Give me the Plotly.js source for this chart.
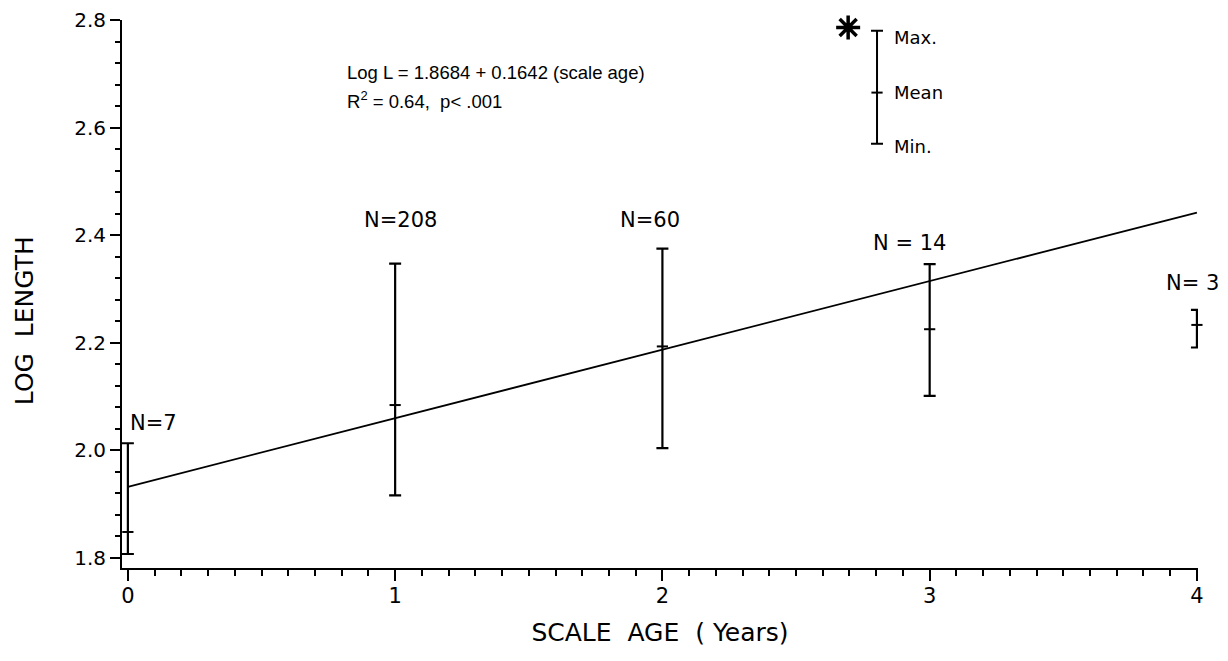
<!DOCTYPE html>
<html>
<head>
<meta charset="utf-8">
<script src="https://cdn.plot.ly/plotly-3.0.1.min.js"></script>
<style>html,body{margin:0;padding:0;background:#fff;}#chart{width:1228px;height:661px;}</style>
</head>
<body>
<div id="chart"></div>
<script>
// ---- data ----
const ages     = [0, 1, 2, 3, 4];
const meanLog  = [1.848, 2.084, 2.193, 2.225, 2.233];
const maxLog   = [2.013, 2.347, 2.375, 2.346, 2.261];
const minLog   = [1.807, 1.916, 2.004, 2.101, 2.191];
const nLabels  = ['N=7', 'N=208', 'N=60', 'N = 14', 'N= 3'];
const fitX     = [0, 4];
const fitY     = [1.932, 2.442];
const legendX     = [2.803];
const legendMean  = [2.665];
const legendMax   = [2.78];
const legendMin   = [2.57];
const legendNames = ['Max.', 'Mean', 'Min.'];
const xTickVals = [0, 1, 2, 3, 4];
const xTickText = ['0', '1', '2', '3', '4'];
const xTitle = 'SCALE\u00a0\u00a0AGE\u00a0\u00a0(\u00a0Years)';
const yTitle = 'LOG\u00a0\u00a0LENGTH';
const equationLines = ['Log L = 1.8684 + 0.1642 (scale age)', 'R<sup>2</sup> = 0.64,  p< .001'];

// ---- layout constants (positions / styles) ----
const labelPos = [[0.095, 2.050], [1.019, 2.428], [1.954, 2.428], [2.923, 2.385], [3.984, 2.311]];
const FONT = 'DejaVu Sans, sans-serif';

const errTrace = {
  x: ages, y: meanLog, type: 'scatter', mode: 'markers',
  marker: {symbol: 'line-ew-open', size: 8, color: '#000', line: {width: 2, color: '#000'}},
  error_y: {type: 'data', symmetric: false,
    array: maxLog.map((v, i) => v - meanLog[i]),
    arrayminus: meanLog.map((v, i) => v - minLog[i]),
    color: '#000', thickness: 2.2, width: 6},
  showlegend: false, hoverinfo: 'skip', cliponaxis: false
};
const fitTrace = {
  x: fitX, y: fitY, type: 'scatter', mode: 'lines',
  line: {color: '#000', width: 1.8}, showlegend: false, hoverinfo: 'skip'
};
const legTrace = {
  x: legendX, y: legendMean, type: 'scatter', mode: 'markers',
  marker: {symbol: 'line-ew-open', size: 8, color: '#000', line: {width: 2, color: '#000'}},
  error_y: {type: 'data', symmetric: false,
    array: [legendMax[0] - legendMean[0]], arrayminus: [legendMean[0] - legendMin[0]],
    color: '#000', thickness: 2, width: 6},
  showlegend: false, hoverinfo: 'skip', cliponaxis: false
};
const starTrace = {
  x: [legendX[0] - 0.108], y: [2.786], type: 'scatter', mode: 'markers',
  marker: {symbol: 'asterisk-open', size: 20, color: '#000', line: {width: 3.5, color: '#000'}},
  showlegend: false, hoverinfo: 'skip', cliponaxis: false
};

const annotations = [];
nLabels.forEach((t, i) => annotations.push({
  x: labelPos[i][0], y: labelPos[i][1], xref: 'x', yref: 'y', text: t, showarrow: false,
  xanchor: 'center', yanchor: 'middle', font: {family: FONT, size: 21, color: '#000'}
}));
[legendMax[0], legendMean[0], legendMin[0]].forEach((v, i) => annotations.push({
  x: legendX[0] + 0.055, y: v - (i === 0 ? 0.012 : 0) - (i === 2 ? 0.005 : 0), xref: 'x', yref: 'y',
  text: legendNames[i], showarrow: false, xanchor: 'left', yanchor: 'middle',
  font: {family: FONT, size: 18, color: '#000'}
}));
annotations.push({x: 0.813, y: 2.703, xref: 'x', yref: 'y', text: equationLines[0], showarrow: false,
  xanchor: 'left', yanchor: 'middle', font: {family: 'Liberation Sans, Arial, sans-serif', size: 18.5, color: '#000'}});
annotations.push({x: 0.813, y: 2.651, xref: 'x', yref: 'y', text: equationLines[1], showarrow: false,
  xanchor: 'left', yanchor: 'middle', font: {family: 'Liberation Sans, Arial, sans-serif', size: 18.5, color: '#000'}});
// y-axis title (placed as rotated text, positioned like the reference)
annotations.push({x: 0, xref: 'paper', xshift: -98, y: 2.24, yref: 'y', text: yTitle, textangle: -90,
  showarrow: false, xanchor: 'center', yanchor: 'middle', font: {family: FONT, size: 25, color: '#000'}});

const layout = {
  width: 1228, height: 661,
  margin: {l: 122, r: 30, t: 20, b: 93},
  paper_bgcolor: '#fff', plot_bgcolor: '#fff',
  showlegend: false,
  xaxis: {
    range: [-0.022, 4.004], showgrid: false, zeroline: false,
    showline: true, linecolor: '#000', linewidth: 2,
    tickmode: 'array', tickvals: xTickVals, ticktext: xTickText,
    ticks: 'outside', ticklen: 11, tickwidth: 2, tickcolor: '#000',
    ticklabelstandoff: -3,
    minor: {dtick: 0.1, tick0: 0, ticks: 'outside', ticklen: 6, tickwidth: 2, tickcolor: '#000', showgrid: false},
    tickfont: {family: FONT, size: 21, color: '#000'},
    title: {text: xTitle, font: {family: FONT, size: 25, color: '#000'}, standoff: 16}
  },
  yaxis: {
    range: [1.781, 2.8], showgrid: false, zeroline: false,
    showline: true, linecolor: '#000', linewidth: 2,
    tick0: 1.8, dtick: 0.2, tickformat: '.1f',
    ticks: 'outside', ticklen: 10, tickwidth: 2, tickcolor: '#000',
    minor: {dtick: 0.04, tick0: 1.8, ticks: 'outside', ticklen: 5, tickwidth: 2, tickcolor: '#000', showgrid: false},
    tickfont: {family: FONT, size: 20, color: '#000'}
  },
  annotations: annotations
};

Plotly.newPlot('chart', [fitTrace, errTrace, legTrace, starTrace], layout, {staticPlot: true, displayModeBar: false});
</script>
</body>
</html>
